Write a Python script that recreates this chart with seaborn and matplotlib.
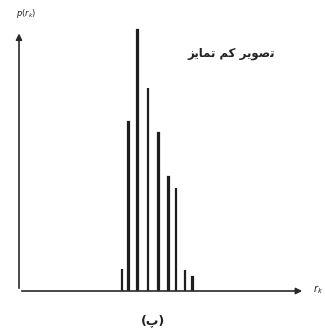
import numpy as np
import pandas as pd
import matplotlib
matplotlib.use("Agg")
import matplotlib.pyplot as plt
import seaborn as sns

# Histogram of a low-contrast image (gray levels r_k and p(r_k))
r_k = [103, 109.5, 118.5, 129, 139.5, 149.5, 157, 166, 173.5]
p_rk = [0.021, 0.159, 0.245, 0.191, 0.148, 0.107, 0.097, 0.020, 0.013]

# Persian labels, written in visual order with presentation forms
title_fa = "\uFE97\uFEE4\uFE8E\uFBFE\uFEB0"[::-1] + " " + "\uFB90\uFEE2"[::-1] + " " + "\uFE97\uFEBB\uFEEE\uFBFE\uFEAE"[::-1]
caption_fa = "(\uFB56)"

sns.set_style("white")
plt.rcParams['font.family'] = ['DejaVu Sans']

fig = plt.figure(figsize=(3.25, 3.35), dpi=100)
ax = fig.add_axes([19 / 325, 44 / 335, 286 / 325, 263 / 335])

df = pd.DataFrame({"r": r_k, "p": p_rk})
sns.barplot(data=df, x="r", y="p", native_scale=True, width=0.02,
            color="#1e1e1e", saturation=1, edgecolor="#1e1e1e",
            linewidth=1.6, ax=ax)

ax.set_xlim(0, 286)
ax.set_ylim(0, max(p_rk) * 263 / 261)
ax.set_xlabel("")
ax.set_ylabel("")
ax.set_xticks([])
ax.set_yticks([])
for s in ax.spines.values():
    s.set_visible(False)

# axis arrows
arrow = dict(arrowstyle="-|>", color="#2a2a2a", lw=1.2, mutation_scale=9)
ax.annotate("", xy=(1.0, 0), xytext=(0, 0), xycoords="axes fraction",
            arrowprops=arrow, annotation_clip=False)
ax.annotate("", xy=(0, 0.99), xytext=(0, 0), xycoords="axes fraction",
            arrowprops=arrow, annotation_clip=False)

fig.text(26 / 325, 1 - 14 / 335, r"$p(r_k)$", fontsize=6, ha="center", va="center", color="#222")
fig.text(318 / 325, 1 - 290 / 335, r"$r_k$", fontsize=7, ha="center", va="center", color="#222")
fig.text(231 / 325, 1 - 53 / 335, title_fa, fontsize=8.5, fontweight="bold",
         ha="center", va="center", color="#222")
fig.text(153 / 325, 1 - 321 / 335, caption_fa, fontsize=9, fontweight="bold",
         ha="center", va="center", color="#222")

fig.savefig("out.png", dpi=100)
